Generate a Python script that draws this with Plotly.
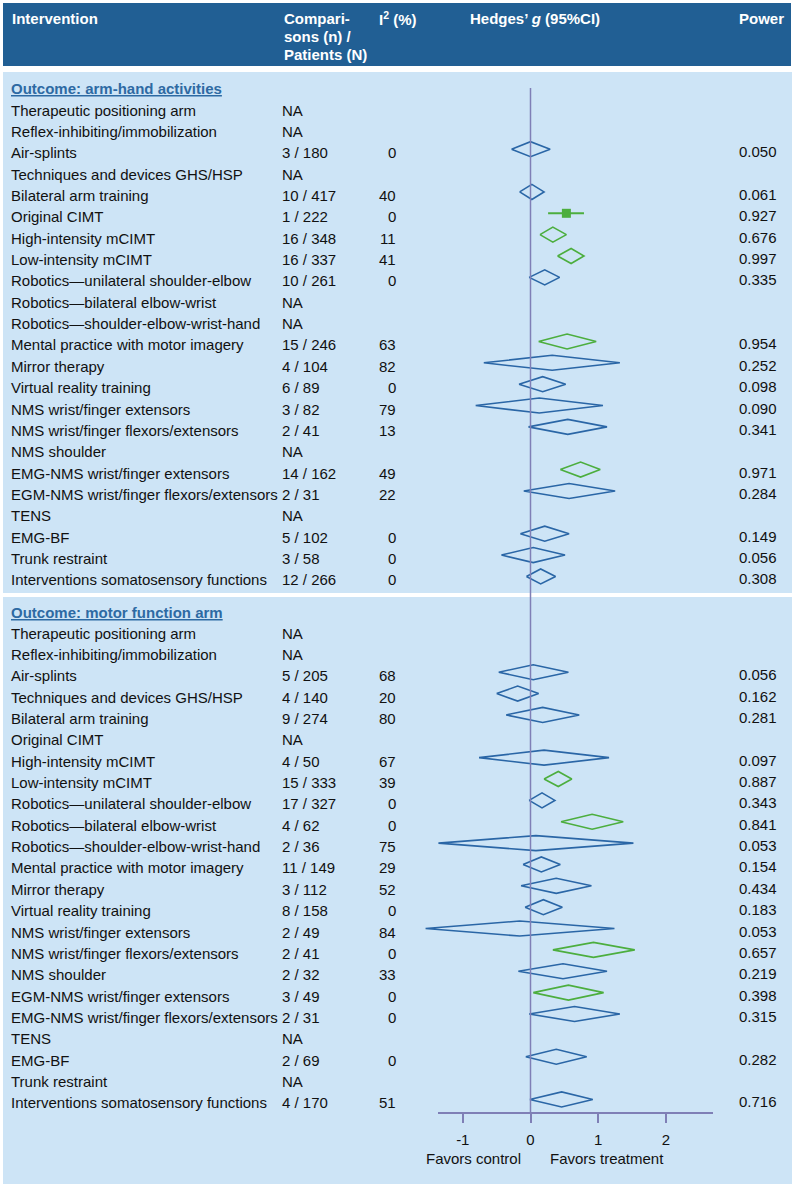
import plotly.graph_objects as go

# ---- data -------------------------------------------------------------
interventions_1 = [
    "Therapeutic positioning arm", "Reflex-inhibiting/immobilization", "Air-splints",
    "Techniques and devices GHS/HSP", "Bilateral arm training", "Original CIMT",
    "High-intensity mCIMT", "Low-intensity mCIMT", "Robotics\u2014unilateral shoulder-elbow",
    "Robotics\u2014bilateral elbow-wrist", "Robotics\u2014shoulder-elbow-wrist-hand",
    "Mental practice with motor imagery", "Mirror therapy", "Virtual reality training",
    "NMS wrist/finger extensors", "NMS wrist/finger flexors/extensors", "NMS shoulder",
    "EMG-NMS wrist/finger extensors", "EGM-NMS wrist/finger flexors/extensors", "TENS",
    "EMG-BF", "Trunk restraint", "Interventions somatosensory functions",
]
n_comp_1 = [None, None, 3, None, 10, 1, 16, 16, 10, None, None, 15, 4, 6, 3, 2, None, 14, 2, None, 5, 3, 12]
n_pat_1 = [None, None, 180, None, 417, 222, 348, 337, 261, None, None, 246, 104, 89, 82, 41, None, 162, 31, None, 102, 58, 266]
i2_1 = [None, None, 0, None, 40, 0, 11, 41, 0, None, None, 63, 82, 0, 79, 13, None, 49, 22, None, 0, 0, 0]
g_1 = [None, None, 0.00, None, 0.02, 0.53, 0.33, 0.60, 0.21, None, None, 0.54, 0.32, 0.18, 0.13, 0.55, None, 0.74, 0.57, None, 0.21, 0.04, 0.15]
lo_1 = [None, None, -0.28, None, -0.16, 0.26, 0.14, 0.40, -0.02, None, None, 0.12, -0.69, -0.17, -0.81, -0.03, None, 0.44, -0.10, None, -0.15, -0.43, -0.06]
hi_1 = [None, None, 0.29, None, 0.20, 0.79, 0.53, 0.79, 0.43, None, None, 0.97, 1.32, 0.52, 1.07, 1.13, None, 1.03, 1.25, None, 0.57, 0.51, 0.37]
power_1 = [None, None, "0.050", None, "0.061", "0.927", "0.676", "0.997", "0.335", None, None, "0.954", "0.252", "0.098", "0.090", "0.341", None, "0.971", "0.284", None, "0.149", "0.056", "0.308"]
sig_1 = [False, False, False, False, False, True, True, True, False, False, False, True, False, False, False, False, False, True, False, False, False, False, False]

interventions_2 = [
    "Therapeutic positioning arm", "Reflex-inhibiting/immobilization", "Air-splints",
    "Techniques and devices GHS/HSP", "Bilateral arm training", "Original CIMT",
    "High-intensity mCIMT", "Low-intensity mCIMT", "Robotics\u2014unilateral shoulder-elbow",
    "Robotics\u2014bilateral elbow-wrist", "Robotics\u2014shoulder-elbow-wrist-hand",
    "Mental practice with motor imagery", "Mirror therapy", "Virtual reality training",
    "NMS wrist/finger extensors", "NMS wrist/finger flexors/extensors", "NMS shoulder",
    "EGM-NMS wrist/finger extensors", "EMG-NMS wrist/finger flexors/extensors", "TENS",
    "EMG-BF", "Trunk restraint", "Interventions somatosensory functions",
]
n_comp_2 = [None, None, 5, 4, 9, None, 4, 15, 17, 4, 2, 11, 3, 8, 2, 2, 2, 3, 2, None, 2, None, 4]
n_pat_2 = [None, None, 205, 140, 274, None, 50, 333, 327, 62, 36, 149, 112, 158, 49, 41, 32, 49, 31, None, 69, None, 170]
i2_2 = [None, None, 68, 20, 80, None, 67, 39, 0, 0, 75, 29, 52, 0, 84, 0, 33, 0, 0, None, 0, None, 51]
g_2 = [None, None, 0.04, -0.19, 0.18, None, 0.20, 0.41, 0.17, 0.91, 0.08, 0.16, 0.38, 0.19, -0.16, 0.93, 0.48, 0.56, 0.65, None, 0.38, None, 0.46]
lo_2 = [None, None, -0.47, -0.50, -0.36, None, -0.76, 0.20, -0.02, 0.45, -1.36, -0.11, -0.14, -0.08, -1.55, 0.33, -0.18, 0.04, -0.02, None, -0.07, None, -0.01]
hi_2 = [None, None, 0.56, 0.12, 0.72, None, 1.16, 0.61, 0.36, 1.37, 1.52, 0.44, 0.90, 0.47, 1.24, 1.54, 1.13, 1.08, 1.32, None, 0.83, None, 0.92]
power_2 = [None, None, "0.056", "0.162", "0.281", None, "0.097", "0.887", "0.343", "0.841", "0.053", "0.154", "0.434", "0.183", "0.053", "0.657", "0.219", "0.398", "0.315", None, "0.282", None, "0.716"]
sig_2 = [False, False, False, False, False, False, False, True, False, True, False, False, False, False, False, True, False, True, False, False, False, False, False]

outcomes = ["Outcome: arm-hand activities", "Outcome: motor function arm"]
axis_ticks = [-1, 0, 1, 2]

# ---- layout constants ----------------------------------------------------
W, H = 796, 1188
X0, PPU = 530.5, 67.7          # pixel of g = 0, pixels per unit of g
ROW_H = 21.36
FONT = "Liberation Sans, Arial, sans-serif"
FS = 15
BLUE = "#2a66a6"
GREEN = "#4cae3e"
HEAD_BG = "#215f94"
PANEL_BG = "#cde4f6"
AX_COL = "#7f7fb6"
TXT = "#111111"


def px(xpix):
    return xpix / W


def gval(xpix):
    return (xpix - X0) / PPU


panels = [
    dict(head_y=88, row0=110, box=(72, 593), names=interventions_1, n=n_comp_1, N=n_pat_1,
         i2=i2_1, g=g_1, lo=lo_1, hi=hi_1, power=power_1, sig=sig_1),
    dict(head_y=612, row0=633, box=(597, 1184), names=interventions_2, n=n_comp_2, N=n_pat_2,
         i2=i2_2, g=g_2, lo=lo_2, hi=hi_2, power=power_2, sig=sig_2),
]

fig = go.Figure()
ann = []
shapes = []

# header band
shapes.append(dict(type="rect", xref="paper", yref="y", x0=px(3), x1=px(791), y0=3, y1=66,
                   fillcolor=HEAD_BG, line=dict(width=0), layer="below"))


def head(text, x, y, anchor="left"):
    ann.append(dict(text=text, x=px(x), y=y, xref="paper", yref="y", xanchor=anchor,
                    yanchor="middle", showarrow=False,
                    font=dict(family=FONT, size=FS, color="white")))


head("<b>Intervention</b>", 10, 18)
head("<b>Compari-</b>", 282, 18)
head("<b>sons (n) /</b>", 282, 36)
head("<b>Patients (N)</b>", 282, 54)
head("<b>I<sup>2</sup> (%)</b>", 377, 18)
head("<b>Hedges\u2019 <i>g</i> (95%CI)</b>", 468, 18)
head("<b>Power</b>", 786, 18, "right")

dx = {True: [], False: []}
dy = {True: [], False: []}
single = dict(x=[], y=[], lo=[], hi=[], c=[])

for k, p in enumerate(panels):
    shapes.append(dict(type="rect", xref="paper", yref="y", x0=px(3), x1=px(792),
                       y0=p["box"][0], y1=p["box"][1], fillcolor=PANEL_BG,
                       line=dict(width=0), layer="below"))
    ann.append(dict(text="<b><u>" + outcomes[k] + "</u></b>", x=px(9), y=p["head_y"],
                    xref="paper", yref="y", xanchor="left", yanchor="middle", showarrow=False,
                    font=dict(family=FONT, size=FS, color="#2d6aa3")))
    for i, name in enumerate(p["names"]):
        y = p["row0"] + i * ROW_H
        font = dict(family=FONT, size=FS, color=TXT)
        ann.append(dict(text=name, x=px(9), y=y, xref="paper", yref="y", xanchor="left",
                        yanchor="middle", showarrow=False, font=font))
        comp = "NA" if p["n"][i] is None else f"{p['n'][i]} / {p['N'][i]}"
        ann.append(dict(text=comp, x=px(280), y=y, xref="paper", yref="y", xanchor="left",
                        yanchor="middle", showarrow=False, font=font))
        if p["i2"][i] is not None:
            ann.append(dict(text=str(p["i2"][i]), x=px(398), y=y, xref="paper", yref="y",
                            xanchor="right", yanchor="middle", showarrow=False, font=font))
        if p["power"][i] is not None:
            ann.append(dict(text=p["power"][i], x=px(779), y=y - 1, xref="paper", yref="y",
                            xanchor="right", yanchor="middle", showarrow=False, font=font))
        if p["g"][i] is None:
            continue
        yc = y - 3.5
        s = p["sig"][i]
        if p["n"][i] == 1:
            # single study: point estimate with CI bar
            single["x"].append(p["g"][i])
            single["y"].append(yc)
            single["hi"].append(p["hi"][i] - p["g"][i])
            single["lo"].append(p["g"][i] - p["lo"][i])
            single["c"].append(GREEN if s else BLUE)
            continue
        dx[s] += [p["lo"][i], p["g"][i], p["hi"][i], p["g"][i], p["lo"][i], None]
        dy[s] += [yc, yc - 7.5, yc, yc + 7.5, yc, None]

# zero line
AXIS_Y = 1113
shapes.append(dict(type="line", xref="x", yref="y", x0=0, x1=0, y0=88, y1=AXIS_Y,
                   line=dict(color=AX_COL, width=1.5)))

for s, col in [(False, BLUE), (True, GREEN)]:
    fig.add_trace(go.Scatter(x=dx[s], y=dy[s], mode="lines", line=dict(color=col, width=1.6),
                             hoverinfo="skip", showlegend=False))

fig.add_trace(go.Scatter(
    x=single["x"], y=single["y"], mode="markers",
    marker=dict(symbol="square", size=9, color=single["c"]),
    error_x=dict(type="data", symmetric=False, array=single["hi"], arrayminus=single["lo"],
                 color=GREEN, thickness=2, width=0),
    hoverinfo="skip", showlegend=False))

# helper trace so the bottom g axis is drawn
fig.add_trace(go.Scatter(x=[None], y=[None], xaxis="x2", yaxis="y", showlegend=False,
                         hoverinfo="skip"))

ann.append(dict(text="Favors control", x=px(473), y=1158, xref="paper", yref="y",
                xanchor="center", yanchor="middle", showarrow=False,
                font=dict(family=FONT, size=FS, color=TXT)))
ann.append(dict(text="Favors treatment", x=px(607), y=1158, xref="paper", yref="y",
                xanchor="center", yanchor="middle", showarrow=False,
                font=dict(family=FONT, size=FS, color=TXT)))

fig.update_layout(
    width=W, height=H, margin=dict(l=0, r=0, t=0, b=0),
    paper_bgcolor="white", plot_bgcolor="rgba(0,0,0,0)",
    xaxis=dict(range=[gval(0), gval(W)], domain=[0, 1], visible=False, fixedrange=True),
    xaxis2=dict(anchor="free", position=(H - AXIS_Y) / H,
                domain=[px(438), px(713)], range=[gval(438), gval(713)],
                showline=True, linecolor=AX_COL, linewidth=1.5,
                ticks="outside", ticklen=9, tickwidth=1.5, tickcolor=AX_COL,
                tickvals=axis_ticks, ticktext=[str(t) for t in axis_ticks],
                tickfont=dict(family=FONT, size=FS, color=TXT), ticklabelstandoff=4,
                showgrid=False, zeroline=False, fixedrange=True),
    yaxis=dict(range=[H, 0], domain=[0, 1], visible=False, fixedrange=True),
    shapes=shapes, annotations=ann, showlegend=False,
)

fig.write_html("out.html", config={"displayModeBar": False},
               post_script="document.body.style.margin='0';")
